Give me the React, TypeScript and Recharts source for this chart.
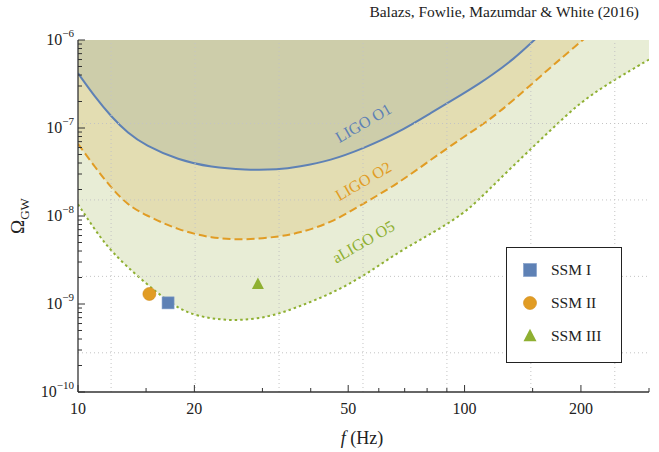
import {
  Area,
  ComposedChart,
  Legend,
  ReferenceDot,
  ReferenceLine,
  Scatter,
  XAxis,
  YAxis,
} from "recharts";

// detector sensitivity curves (frequency in Hz, Omega_GW)
const freqO1 = [10, 11.05, 12.2, 13.47, 14.89, 18.16, 22.14, 27, 33, 37.2, 45, 54.8, 66.9, 81.6, 99.6, 110, 116.8, 134.2, 150, 160];
const omegaO1 = [4.2e-7, 2.27e-7, 1.34e-7, 8.7e-8, 6.41e-8, 4.33e-8, 3.57e-8, 3.34e-8, 3.36e-8, 3.62e-8, 4.26e-8, 5.88e-8, 8.71e-8, 1.47e-7, 2.48e-7, 3.27e-7, 3.9e-7, 6.1e-7, 9.6e-7, 1.25e-6];

const freqO2 = [10, 11.05, 12.2, 13.47, 14.89, 18.16, 22.14, 27, 33, 37.2, 45, 54.8, 66.9, 81.6, 99.6, 115, 134.2, 163.8, 197.7, 210];
const omegaO2 = [6.6e-8, 3.63e-8, 2.07e-8, 1.33e-8, 1.03e-8, 6.93e-9, 5.58e-9, 5.34e-9, 5.8e-9, 6.4e-9, 8.26e-9, 1.39e-8, 2.3e-8, 4.33e-8, 7.96e-8, 1.2e-7, 2.08e-7, 4.56e-7, 9.2e-7, 1.15e-6];

const freqO5 = [10, 11.05, 12.2, 14.6, 17.8, 20.1, 25, 31.4, 37.2, 45.4, 55.4, 67.6, 82.5, 99.6, 110, 134.2, 163.8, 199.8, 243.7, 300];
const omegaO5 = [1.36e-8, 7.0e-9, 3.9e-9, 1.87e-9, 9.3e-10, 7.3e-10, 6.3e-10, 7.1e-10, 9.3e-10, 1.32e-9, 2.13e-9, 3.94e-9, 6.35e-9, 1.07e-8, 1.6e-8, 3.8e-8, 8.71e-8, 2.0e-7, 3.51e-7, 6.0e-7];

// benchmark points
const ssmNames = ["SSM I", "SSM II", "SSM III"];
const ssmFreq = [17.1, 15.3, 29.2];
const ssmOmega = [1.03e-9, 1.3e-9, 1.68e-9];

// axes
const xTicks = [10, 15, 20, 30, 40, 50, 60, 70, 80, 90, 100, 150, 200, 300];
const xMajor = [10, 20, 50, 100, 200];
const yDecades = [-10, -9, -8, -7];
const yMantissas = [1, 2, 3, 4, 5, 6, 7, 8, 9];
const yTicks = [...yDecades.flatMap((e) => yMantissas.map((m) => m * Math.pow(10, e))), 1e-6];
const xGrid = [12.18, 20.09, 33.12, 54.6, 90.02, 148.41, 244.69];
const yGrid = [1.125e-7, 1.523e-8, 2.061e-9, 2.789e-10];

// curve annotations
const curveLabels = [
  { text: "LIGO O1", f: 54.7, omega: 1.14e-7, color: "#5E81B5" },
  { text: "LIGO O2", f: 54.7, omega: 2.5e-8, color: "#E19C24" },
  { text: "aLIGO O5", f: 54.7, omega: 5.1e-9, color: "#8FB032" },
];

const toRows = (fs: number[], os: number[]) => fs.map((f, i) => ({ f, omega: os[i] }));
const o1 = toRows(freqO1, omegaO1);
const o2 = toRows(freqO2, omegaO2);
const o5 = toRows(freqO5, omegaO5);
const ssm = ssmNames.map((name, i) => ({ name, f: ssmFreq[i], omega: ssmOmega[i] }));

const FONT = "'Liberation Serif', serif";
const FRAME = "#333";
const BLUE = "#5E81B5";
const ORANGE = "#E19C24";
const GREEN = "#8FB032";

const isMajorY = (v: number) => {
  const e = Math.floor(Math.log10(v) + 1e-9);
  return Math.round(v / Math.pow(10, e)) === 1;
};

const BottomTick = (props: any) => {
  const { x, y, payload } = props;
  const major = xMajor.includes(payload.value);
  return (
    <g>
      <line x1={x} x2={x} y1={y} y2={y - (major ? 7 : 4)} stroke={FRAME} />
      {major && (
        <text x={x} y={y + 22} textAnchor="middle" fontFamily={FONT} fontSize={16} fill="#222">
          {payload.value}
        </text>
      )}
    </g>
  );
};

const TopTick = (props: any) => {
  const { x, y, payload } = props;
  const major = xMajor.includes(payload.value);
  return <line x1={x} x2={x} y1={y} y2={y + (major ? 7 : 4)} stroke={FRAME} />;
};

const LeftTick = (props: any) => {
  const { x, y, payload } = props;
  const major = isMajorY(payload.value);
  const e = Math.round(Math.log10(payload.value));
  return (
    <g>
      <line x1={x} x2={x + (major ? 7 : 4)} y1={y} y2={y} stroke={FRAME} />
      {major && (
        <text x={x - 4} y={y + 5} textAnchor="end" fontFamily={FONT} fontSize={16} fill="#222">
          10
          <tspan dy={-8} fontSize={11}>
            {"\u2212" + Math.abs(e)}
          </tspan>
        </text>
      )}
    </g>
  );
};

const RightTick = (props: any) => {
  const { x, y, payload } = props;
  const major = isMajorY(payload.value);
  return <line x1={x} x2={x - (major ? 7 : 4)} y1={y} y2={y} stroke={FRAME} />;
};

const Square = ({ cx, cy, size = 12 }: any) => (
  <rect x={cx - size / 2} y={cy - size / 2} width={size} height={size} fill={BLUE} stroke="#7f9cc8" strokeWidth={0.6} />
);
const Circle = ({ cx, cy, size = 13 }: any) => (
  <circle cx={cx} cy={cy} r={size / 2} fill={ORANGE} stroke="#d08a18" strokeWidth={0.6} />
);
const Triangle = ({ cx, cy, size = 12 }: any) => (
  <polygon
    points={`${cx},${cy - size * 0.55} ${cx - size / 2},${cy + size * 0.4} ${cx + size / 2},${cy + size * 0.4}`}
    fill={GREEN}
  />
);
const markers = [Square, Circle, Triangle];

const LegendBox = () => (
  <div
    style={{
      border: "1.3px solid #222",
      background: "#fff",
      width: 116,
      height: 116,
      boxSizing: "border-box",
      padding: "5px 0 0 14px",
      fontFamily: FONT,
      fontSize: 15.5,
      color: "#222",
    }}
  >
    {ssmNames.map((name, i) => {
      const M = markers[i];
      return (
        <div key={name} style={{ display: "flex", alignItems: "center", height: 33 }}>
          <svg width={18} height={18}>
            <M cx={9} cy={9} size={13} />
          </svg>
          <span style={{ marginLeft: 12 }}>{name}</span>
        </div>
      );
    })}
  </div>
);

export default function App() {
  return (
    <div style={{ position: "absolute", left: 0, top: 0, width: 659, height: 452, background: "#fff" }}>
      <div
        style={{
          position: "absolute",
          right: 20,
          top: 3,
          fontFamily: FONT,
          fontSize: 15.5,
          color: "#222",
          whiteSpace: "nowrap",
        }}
      >
        Balazs, Fowlie, Mazumdar &amp; White (2016)
      </div>
      <ComposedChart width={659} height={452} margin={{ top: 40, right: 10, bottom: 0, left: 0 }}>
        <XAxis
          xAxisId="b"
          dataKey="f"
          type="number"
          scale="log"
          domain={[10, 300]}
          allowDataOverflow
          ticks={xTicks}
          interval={0}
          height={60}
          tickSize={0}
          tickMargin={0}
          tickLine={false}
          axisLine={{ stroke: FRAME, strokeWidth: 1.3 }}
          tick={<BottomTick />}
          label={{
            content: () => (
              <text x={362} y={444} textAnchor="middle" fontFamily={FONT} fontSize={18} fill="#222">
                <tspan fontStyle="italic">f</tspan>
                {"\u00a0(Hz)"}
              </text>
            ),
          }}
        />
        <XAxis
          xAxisId="t"
          dataKey="f"
          orientation="top"
          type="number"
          scale="log"
          domain={[10, 300]}
          allowDataOverflow
          ticks={xTicks}
          interval={0}
          height={0}
          tickSize={0}
          tickMargin={0}
          tickLine={false}
          axisLine={{ stroke: FRAME, strokeWidth: 1.3 }}
          tick={<TopTick />}
        />
        <YAxis
          yAxisId="l"
          dataKey="omega"
          type="number"
          scale="log"
          domain={[1e-10, 1e-6]}
          allowDataOverflow
          ticks={yTicks}
          interval={0}
          width={78}
          tickSize={0}
          tickMargin={0}
          tickLine={false}
          axisLine={{ stroke: FRAME, strokeWidth: 1.3 }}
          tick={<LeftTick />}
          label={{
            content: () => (
              <text transform="translate(24,216) rotate(-90)" textAnchor="middle" fontFamily={FONT} fontSize={19} fill="#222">
                Ω
                <tspan dy={5} fontSize={13}>
                  GW
                </tspan>
              </text>
            ),
          }}
        />
        <YAxis
          yAxisId="r"
          dataKey="omega"
          orientation="right"
          type="number"
          scale="log"
          domain={[1e-10, 1e-6]}
          allowDataOverflow
          ticks={yTicks}
          interval={0}
          width={0}
          tickSize={0}
          tickMargin={0}
          tickLine={false}
          axisLine={{ stroke: FRAME, strokeWidth: 1.3 }}
          tick={<RightTick />}
        />

        <Area
          xAxisId="b"
          yAxisId="l"
          data={o5}
          dataKey="omega"
          type="basis"
          baseValue={1e-6}
          fill="#E8EDD6"
          fillOpacity={1}
          stroke={GREEN}
          strokeWidth={2}
          strokeDasharray="2.5 3"
          legendType="none"
          isAnimationActive={false}
        />
        <Area
          xAxisId="b"
          yAxisId="l"
          data={o2}
          dataKey="omega"
          type="basis"
          baseValue={1e-6}
          fill="#E3DDB2"
          fillOpacity={1}
          stroke={ORANGE}
          strokeWidth={2}
          strokeDasharray="8 4"
          legendType="none"
          isAnimationActive={false}
        />
        <Area
          xAxisId="b"
          yAxisId="l"
          data={o1}
          dataKey="omega"
          type="basis"
          baseValue={1e-6}
          fill="#CDCDAA"
          fillOpacity={1}
          stroke={BLUE}
          strokeWidth={2}
          legendType="none"
          isAnimationActive={false}
        />

        {xGrid.map((v) => (
          <ReferenceLine key={"x" + v} xAxisId="b" yAxisId="l" x={v} stroke="#c4c4c4" strokeDasharray="1 3" />
        ))}
        {yGrid.map((v) => (
          <ReferenceLine key={"y" + v} xAxisId="b" yAxisId="l" y={v} stroke="#c4c4c4" strokeDasharray="1 3" />
        ))}

        {curveLabels.map((c) => (
          <ReferenceDot
            key={c.text}
            xAxisId="b"
            yAxisId="l"
            x={c.f}
            y={c.omega}
            shape={(p: any) => (
              <text
                transform={`translate(${p.cx},${p.cy}) rotate(-30)`}
                textAnchor="middle"
                dominantBaseline="central"
                fontFamily={FONT}
                fontSize={16}
                fill={c.color}
              >
                {c.text}
              </text>
            )}
          />
        ))}

        {ssm.map((s, i) => {
          const M = markers[i];
          return (
            <Scatter
              key={s.name}
              xAxisId="b"
              yAxisId="l"
              name={s.name}
              data={[s]}
              dataKey="omega"
              shape={(p: any) => <M cx={p.cx} cy={p.cy} />}
              isAnimationActive={false}
            />
          );
        })}

        <Legend
          layout="vertical"
          align="center"
          verticalAlign="middle"
          wrapperStyle={{ left: 506, top: 247, width: 116 }}
          content={() => <LegendBox />}
        />
      </ComposedChart>
    </div>
  );
}
